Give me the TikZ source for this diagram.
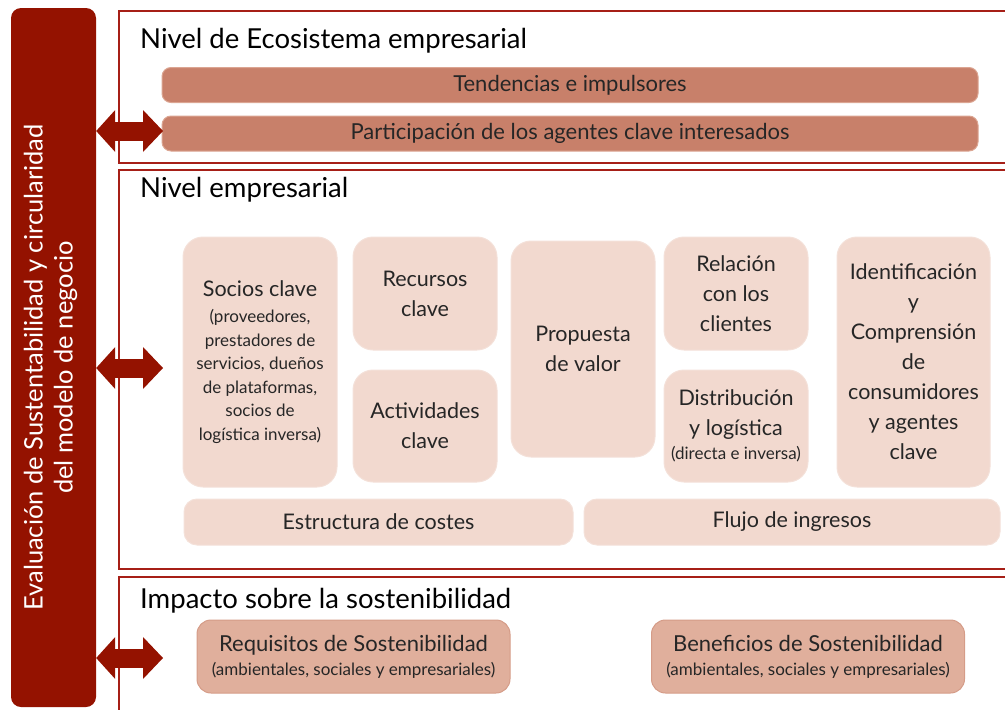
\documentclass[tikz,border=0pt]{standalone}
\usepackage{fontspec}
\setmainfont{Lato}
\usetikzlibrary{arrows.meta}
\definecolor{barred}{HTML}{941200}
\definecolor{frame}{HTML}{A61F17}
\definecolor{trend}{HTML}{C8806A}
\definecolor{trendedge}{HTML}{DBA592}
\definecolor{canvas}{HTML}{F2D9CF}
\definecolor{canvasedge}{HTML}{F4E1D9}
\definecolor{impact}{HTML}{E0AF9C}
\definecolor{impactedge}{HTML}{D59C88}
\definecolor{ink}{HTML}{262626}
\newcommand\sm{\fontsize{17}{20}\selectfont}

\begin{document}
\begin{tikzpicture}[x=1pt,y=-1pt,
  level/.style={draw=frame,line width=1.5pt,anchor=north west},
  head/.style={anchor=base west,inner sep=0pt,font=\fontsize{27.5}{32}\selectfont},
  trendbar/.style={draw=trendedge,fill=trend,rounded corners=9pt,line width=1pt,
    minimum width=816pt,minimum height=35pt,text=ink,font=\fontsize{22}{26}\selectfont},
  cbox/.style={draw=canvasedge,fill=canvas,rounded corners=20pt,line width=1pt,
    align=center,text=ink,font=\fontsize{21.5}{30}\selectfont},
  ibox/.style={draw=impactedge,fill=impact,rounded corners=14pt,line width=1pt,
    minimum width=313pt,minimum height=73pt,align=center,text=ink,
    font=\fontsize{22}{27}\selectfont},
  dbl/.style={{Triangle[length=19pt,width=42pt,line width=0pt]}-{Triangle[length=20pt,width=42pt,line width=0pt]},
    line width=19pt,draw=barred}]
\useasboundingbox (0,0) rectangle (1005,710);
% left bar
\node[fill=barred,rounded corners=10pt,minimum width=85pt,minimum height=699pt] (eval) at (53.5,357.5) {};
\node[rotate=90,text=white,align=center,font=\fontsize{25.5}{30}\selectfont]
  (evaltext) at ([xshift=-3pt,yshift=-10pt]eval.center)
  {Evaluación de Sustentabilidad y circularidad\\del modelo de negocio};
% levels
\node[level,minimum width=900pt,minimum height=152pt] (eco) at (118,10) {};
\node[level,minimum width=900pt,minimum height=399pt] (emp) at (118,169) {};
\node[level,minimum width=900pt,minimum height=150pt] (imp) at (118,576) {};
\node[head] (ecoT) at (140,48) {Nivel de Ecosistema empresarial};
\node[head] (empT) at (140,197) {Nivel empresarial};
\node[head] (impT) at (140,608) {Impacto sobre la sostenibilidad};
% ecosystem
\node[trendbar] (tend) at (570,85) {Tendencias e impulsores};
\node[trendbar] (part) at (570,133.5) {Participación de los agentes clave interesados};
% business model canvas
\node[cbox,minimum width=154pt,minimum height=250pt] (socios) at (260,362)
  {Socios clave\\[-4pt]{\sm (proveedores,}\\[-6.5pt]{\sm prestadores de}\\[-6.5pt]{\sm servicios, dueños}\\[-6.5pt]{\sm de plataformas,}\\[-6.5pt]{\sm socios de}\\[-6.5pt]{\sm logística inversa)}};
\node[cbox,minimum width=144pt,minimum height=113pt] (recursos) at (425,293.5) {Recursos\\clave};
\node[cbox,minimum width=144pt,minimum height=112pt] (activ) at (425,426) {Actividades\\clave};
\node[cbox,minimum width=144pt,minimum height=216pt] (prop) at (583,349) {Propuesta\\de valor};
\node[cbox,minimum width=144pt,minimum height=113pt] (relac) at (736,293.5) {Relación\\con los\\clientes};
\node[cbox,minimum width=144pt,minimum height=112pt] (distr) at (736,426)
  {Distribución\\y logística\\[-6pt]{\sm (directa e inversa)}};
\node[cbox,minimum width=153pt,minimum height=250pt] (ident) at (913.5,362)
  {Identificación\\y\\Comprensión\\de\\consumidores\\y agentes\\clave};
\node[cbox,minimum width=389pt,minimum height=46pt,rounded corners=13pt] (costes) at (378.5,522) {Estructura de costes};
\node[cbox,minimum width=416pt,minimum height=46pt,rounded corners=13pt] (ingr) at (792,522) {Flujo de ingresos};
% sustainability impact
\node[ibox] (req) at (353.5,656.5)
  {Requisitos de Sostenibilidad\\[-3pt]{\sm(ambientales, sociales y empresariales)}};
\node[ibox] (ben) at (808,656.5)
  {Beneficios de Sostenibilidad\\[-3pt]{\sm(ambientales, sociales y empresariales)}};
% links to the evaluation bar
\coordinate (a1) at (163,131);
\coordinate (a2) at (163,368);
\coordinate (a3) at (163,658);
\draw[dbl] (eval.east |- a1) -- (a1);
\draw[dbl] (eval.east |- a2) -- (a2);
\draw[dbl] (eval.east |- a3) -- (a3);
\end{tikzpicture}
\end{document}
